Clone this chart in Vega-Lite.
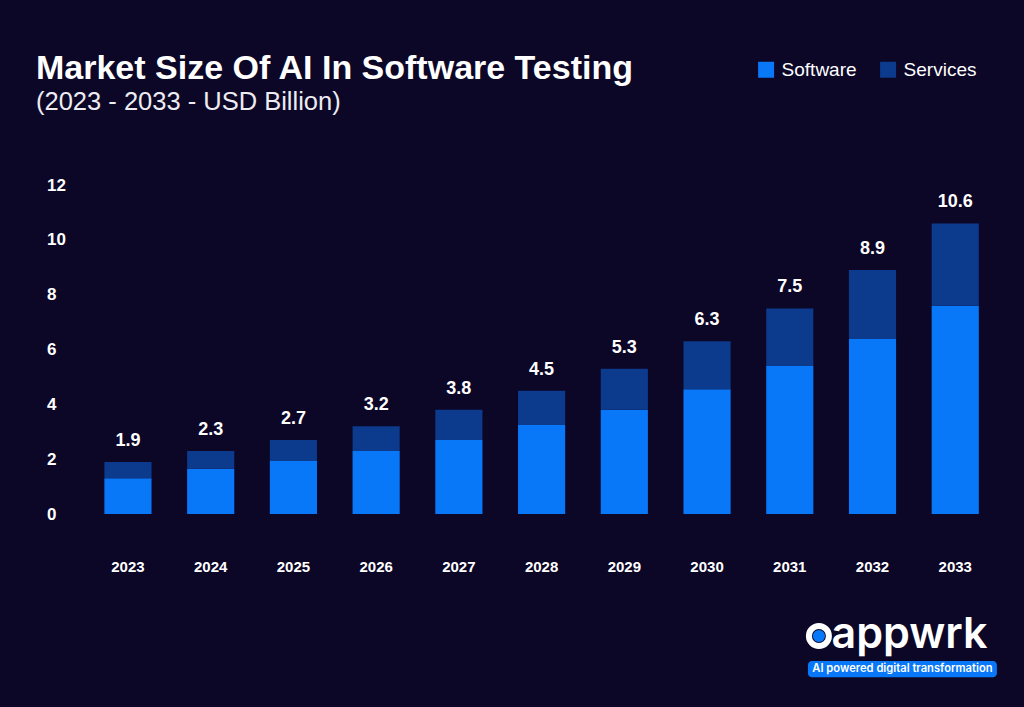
{
  "$schema": "https://vega.github.io/schema/vega-lite/v6.json",
  "width": 910,
  "height": 329,
  "autosize": {"type": "none"},
  "padding": {"left": 86.6, "top": 185, "right": 27.4, "bottom": 193},
  "background": "#0c0627",
  "title": {
    "text": "Market Size Of AI In Software Testing",
    "subtitle": "(2023 - 2033 - USD Billion)",
    "anchor": "start",
    "dx": -10.6,
    "offset": -55,
    "font": "Liberation Sans",
    "fontSize": 34,
    "fontWeight": "bold",
    "color": "#ffffff",
    "subtitleFont": "Liberation Sans",
    "subtitleFontSize": 25.5,
    "subtitleColor": "#ececf2",
    "subtitlePadding": 4
  },
  "config": {
    "view": {"stroke": null},
    "font": "Liberation Sans"
  },
  "data": {
    "values": [
      {"year": "2023", "segment": "Software", "value": 1.3},
      {"year": "2023", "segment": "Services", "value": 0.6},
      {"year": "2024", "segment": "Software", "value": 1.65},
      {"year": "2024", "segment": "Services", "value": 0.65},
      {"year": "2025", "segment": "Software", "value": 1.95},
      {"year": "2025", "segment": "Services", "value": 0.75},
      {"year": "2026", "segment": "Software", "value": 2.3},
      {"year": "2026", "segment": "Services", "value": 0.9},
      {"year": "2027", "segment": "Software", "value": 2.7},
      {"year": "2027", "segment": "Services", "value": 1.1},
      {"year": "2028", "segment": "Software", "value": 3.25},
      {"year": "2028", "segment": "Services", "value": 1.25},
      {"year": "2029", "segment": "Software", "value": 3.8},
      {"year": "2029", "segment": "Services", "value": 1.5},
      {"year": "2030", "segment": "Software", "value": 4.55},
      {"year": "2030", "segment": "Services", "value": 1.75},
      {"year": "2031", "segment": "Software", "value": 5.4},
      {"year": "2031", "segment": "Services", "value": 2.1},
      {"year": "2032", "segment": "Software", "value": 6.4},
      {"year": "2032", "segment": "Services", "value": 2.5},
      {"year": "2033", "segment": "Software", "value": 7.6},
      {"year": "2033", "segment": "Services", "value": 3.0}
    ]
  },
  "encoding": {
    "x": {
      "field": "year",
      "type": "ordinal",
      "scale": {"paddingInner": 0.43, "paddingOuter": 0.215},
      "axis": {
        "title": null,
        "domain": false,
        "ticks": false,
        "labelAngle": 0,
        "labelPadding": 45,
        "labelFontSize": 15,
        "labelFontWeight": "bold",
        "labelColor": "#ffffff"
      }
    }
  },
  "layer": [
    {
      "mark": {"type": "bar"},
      "encoding": {
        "y": {
          "field": "value",
          "type": "quantitative",
          "stack": "zero",
          "scale": {"domain": [0, 12], "nice": false},
          "axis": {
            "title": null,
            "domain": false,
            "ticks": false,
            "grid": false,
            "values": [0, 2, 4, 6, 8, 10, 12],
            "labelAlign": "left",
            "labelPadding": 40,
            "labelFontSize": 17,
            "labelFontWeight": "bold",
            "labelColor": "#ffffff"
          }
        },
        "color": {
          "field": "segment",
          "type": "nominal",
          "scale": {"domain": ["Software", "Services"], "range": ["#0877f8", "#0c3a8c"]},
          "legend": {
            "title": null,
            "orient": "none",
            "direction": "horizontal",
            "legendX": 670,
            "legendY": -125,
            "symbolType": "square",
            "symbolSize": 256,
            "symbolStrokeWidth": 0,
            "labelFontSize": 19,
            "labelColor": "#ffffff",
            "labelOffset": 6,
            "columnPadding": 22
          }
        },
        "order": {"field": "segment", "sort": "descending"}
      }
    },
    {
      "transform": [{"aggregate": [{"op": "sum", "field": "value", "as": "total"}], "groupby": ["year"]}],
      "mark": {"type": "text", "dy": -21, "baseline": "middle", "fontSize": 18, "fontWeight": "bold", "color": "#ffffff"},
      "encoding": {
        "y": {"field": "total", "type": "quantitative"},
        "text": {"field": "total", "type": "quantitative", "format": ".1f"}
      }
    },
    {
      "data": {"values": [{}]},
      "mark": {"type": "bar", "width": 189, "cornerRadius": 4, "color": "#0877f8", "xOffset": 29.9},
      "encoding": {
        "x": {"datum": "2032"},
        "y": {"datum": -5.36},
        "y2": {"datum": -5.95}
      }
    },
    {
      "data": {"values": [{}]},
      "mark": {"type": "text", "text": "AI powered digital transformation", "dx": 29.9, "fontSize": 11.2, "fontWeight": 600, "font": "Inter", "color": "#ffffff", "baseline": "middle"},
      "encoding": {
        "x": {"datum": "2032"},
        "y": {"datum": -5.66}
      }
    },
    {
      "data": {"values": [{}]},
      "mark": {"type": "text", "text": "appwrk", "dx": -41, "align": "left", "fontSize": 43, "fontWeight": 600, "font": "Inter", "color": "#ffffff", "baseline": "middle"},
      "encoding": {
        "x": {"datum": "2032"},
        "y": {"datum": -4.4}
      }
    },
    {
      "data": {"values": [{}]},
      "mark": {"type": "point", "shape": "circle", "filled": false, "size": 400, "strokeWidth": 6, "color": "#ffffff", "opacity": 1, "xOffset": -53.6},
      "encoding": {
        "x": {"datum": "2032"},
        "y": {"datum": -4.45}
      }
    },
    {
      "data": {"values": [{}]},
      "mark": {"type": "point", "shape": "circle", "filled": true, "size": 150, "color": "#0877f8", "opacity": 1, "xOffset": -53.6},
      "encoding": {
        "x": {"datum": "2032"},
        "y": {"datum": -4.45}
      }
    }
  ]
}
